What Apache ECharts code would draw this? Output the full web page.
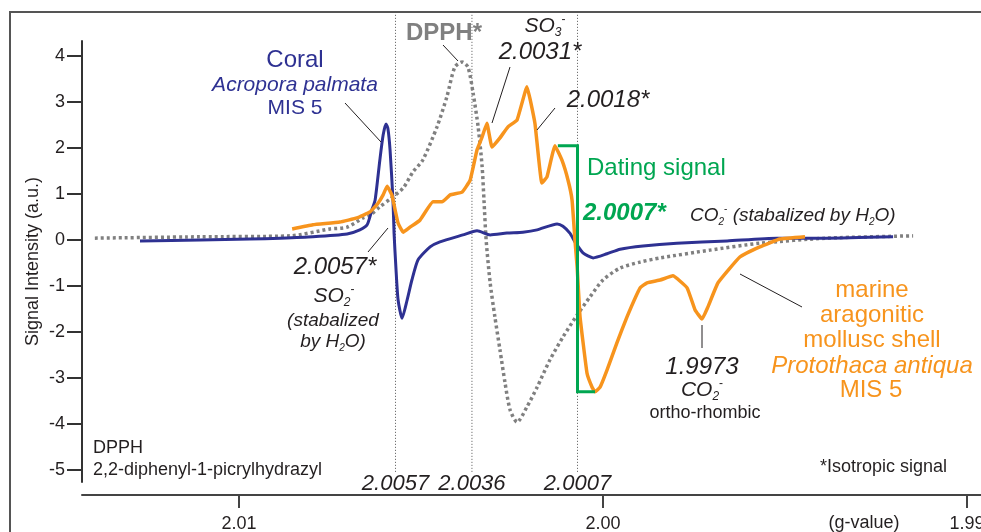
<!DOCTYPE html>
<html>
<head>
<meta charset="utf-8">
<script src="https://cdn.jsdelivr.net/npm/echarts@6/dist/echarts.min.js"></script>
<style>
  html, body { margin: 0; padding: 0; background: #fff; }
  #chart { width: 981px; height: 532px; }
</style>
</head>
<body>
<div id="chart"></div>
<script>
// ---- ESR spectra (x: g-value, y: signal intensity in a.u.) ----
const coralG = [2.01272, 2.01107, 2.00970, 2.00887, 2.00797, 2.00703, 2.00668, 2.00648, 2.00635, 2.00626,
  2.00613, 2.00604, 2.00596, 2.00591, 2.00585, 2.00577, 2.00574, 2.00569, 2.00563, 2.00552,
  2.00538, 2.00525, 2.00508, 2.00475, 2.00448, 2.00385, 2.00346, 2.00310, 2.00264, 2.00220,
  2.00181, 2.00126, 2.00110, 2.00091, 2.00077, 2.00055, 2.00027, 1.99989, 1.99953, 1.99890,
  1.99797, 1.99659, 1.99522, 1.99385, 1.99203];
const coralSignal = [-0.02, 0.00, 0.02, 0.04, 0.07, 0.13, 0.22, 0.33, 0.65, 0.87,
  1.74, 2.28, 2.52, 2.43, 1.96, 0.87, 0.15, -0.59, -1.30, -1.70,
  -1.30, -0.87, -0.43, -0.15, -0.04, 0.11, 0.20, 0.11, 0.15, 0.17,
  0.22, 0.35, 0.30, 0.15, -0.04, -0.28, -0.39, -0.30, -0.20, -0.13,
  -0.07, -0.02, 0.04, 0.04, 0.07];

const shellG = [2.00854, 2.00797, 2.00723, 2.00676, 2.00640, 2.00618, 2.00604, 2.00593, 2.00580, 2.00571,
  2.00563, 2.00549, 2.00530, 2.00503, 2.00467, 2.00442, 2.00420, 2.00387, 2.00365, 2.00346,
  2.00332, 2.00319, 2.00305, 2.00283, 2.00261, 2.00236, 2.00209, 2.00187, 2.00168, 2.00154,
  2.00132, 2.00113, 2.00096, 2.00085, 2.00077, 2.00071, 2.00063, 2.00044, 2.00030, 2.00022,
  2.00008, 1.99989, 1.99962, 1.99934, 1.99898, 1.99879, 1.99843, 1.99808, 1.99769, 1.99747,
  1.99728, 1.99712, 1.99684, 1.99624, 1.99569, 1.99514, 1.99445];
const shellSignal = [0.24, 0.33, 0.39, 0.48, 0.61, 0.80, 0.98, 1.17, 0.98, 0.65,
  0.37, 0.17, 0.28, 0.43, 0.83, 0.83, 0.98, 1.04, 1.30, 1.96,
  2.24, 2.54, 2.02, 2.22, 2.46, 2.61, 3.33, 2.54, 1.24, 1.37,
  2.05, 1.74, 1.30, 0.87, 0.00, -0.59, -1.67, -2.89, -3.20, -3.30,
  -3.20, -2.83, -2.24, -1.67, -1.04, -0.93, -0.87, -0.78, -1.04, -1.52,
  -1.72, -1.46, -0.93, -0.37, -0.15, 0.02, 0.07];

const dpphG = [2.01396, 2.01107, 2.00860, 2.00750, 2.00703, 2.00659, 2.00640, 2.00613, 2.00585, 2.00549,
  2.00522, 2.00495, 2.00456, 2.00429, 2.00407, 2.00387, 2.00371, 2.00357, 2.00343, 2.00332,
  2.00327, 2.00321, 2.00310, 2.00297, 2.00283, 2.00269, 2.00255, 2.00236, 2.00209, 2.00181,
  2.00146, 2.00110, 2.00071, 2.00036, 2.00000, 1.99953, 1.99898, 1.99843, 1.99706, 1.99569,
  1.99385, 1.99148];
const dpphSignal = [0.04, 0.07, 0.09, 0.24, 0.28, 0.48, 0.54, 0.72, 0.89, 1.13,
  1.48, 1.74, 2.46, 3.11, 3.76, 3.87, 3.76, 3.20, 2.46, 1.59,
  0.87, 0.00, -0.93, -1.67, -2.39, -3.11, -3.70, -3.96, -3.63, -3.20,
  -2.61, -2.11, -1.63, -1.24, -0.87, -0.61, -0.48, -0.39, -0.22, -0.07,
  0.04, 0.09];

// Dating-signal bracket: peak-to-trough amplitude of the 2.0007 line
const datingG = [2.00124, 2.0007, 2.0007, 2.00022];
const datingSignal = [2.05, 2.05, -3.30, -3.30];

// Isotropic g-value reference lines
const refLineG = [2.0057, 2.0036, 2.0007];
const refLineLabels = ['2.0057', '2.0036', '2.0007'];
const refTop = 4.96, refBottom = -5.04;

// Axis ticks
const xTicks = [2.01, 2.00, 1.99];
const yTicks = [-5, -4, -3, -2, -1, 0, 1, 2, 3, 4];

const FONT = '"Liberation Sans", Arial, Helvetica, sans-serif';
const INK = '#231f20';
const BLUE = '#2e3192';
const ORANGE = '#f7941d';
const GREEN = '#00a651';
const GREY = '#808080';

const zip = (xs, ys) => xs.map((x, i) => [x, ys[i]]);

const chart = echarts.init(document.getElementById('chart'), null, { renderer: 'canvas' });

const refSeries = refLineG.map((g, i) => ({
  type: 'line',
  name: 'ref ' + refLineLabels[i],
  clip: false,
  silent: true,
  z: 1,
  showSymbol: true,
  symbol: 'circle',
  symbolSize: 1,
  itemStyle: { color: 'rgba(0,0,0,0)' },
  lineStyle: { color: '#555', width: 1, type: [1, 2] },
  data: [
    [g, refTop],
    {
      value: [g, refBottom],
      label: {
        show: true, position: 'bottom', distance: 1,
        formatter: refLineLabels[i],
        fontFamily: FONT, fontSize: 22, fontStyle: 'italic', color: INK
      }
    }
  ]
}));

// text helpers for annotations
function txt(x, y, text, opts) {
  return {
    type: 'text', x, y, silent: true, z: 100,
    style: Object.assign({
      text, fill: INK, fontSize: 18, fontFamily: FONT,
      align: 'center', verticalAlign: 'middle'
    }, opts || {})
  };
}
function leader(x1, y1, x2, y2) {
  return { type: 'line', silent: true, z: 100, shape: { x1, y1, x2, y2 }, style: { stroke: INK, lineWidth: 1 } };
}
function chemRich(size, italic, color) {
  const fs = italic ? 'italic' : 'normal';
  return {
    n: { fontSize: size, fontStyle: fs, fontFamily: FONT, color, lineHeight: size + 4 },
    sub: { fontSize: Math.round(size * 0.55), fontStyle: fs, fontFamily: FONT, color, verticalAlign: 'bottom' },
    sup: { fontSize: Math.round(size * 0.55), fontFamily: FONT, color, verticalAlign: 'top' }
  };
}

const graphics = [
  // outer frame
  { type: 'rect', silent: true, z: 0, shape: { x: 10, y: 12, width: 1100, height: 700 },
    style: { fill: 'none', stroke: '#555', lineWidth: 2 } },

  // coral sample
  txt(295, 60, 'Coral', { fill: BLUE, fontSize: 24 }),
  txt(295, 85, 'Acropora palmata', { fill: BLUE, fontSize: 21, fontStyle: 'italic' }),
  txt(295, 108, 'MIS 5', { fill: BLUE, fontSize: 21 }),
  leader(345, 103, 381, 142),

  // DPPH standard
  txt(444, 33, 'DPPH*', { fill: '#808080', fontSize: 24, fontWeight: 'bold' }),
  leader(443, 45, 458, 61),

  // SO3- line
  txt(545, 26, '{n|SO}{sub|3}{sup|-}', { rich: chemRich(21, true, INK) }),
  txt(540, 52, '2.0031*', { fontSize: 24, fontStyle: 'italic' }),
  leader(510, 67, 492, 123),
  txt(608, 100, '2.0018*', { fontSize: 24, fontStyle: 'italic' }),
  leader(555, 108, 537, 130),

  // dating signal
  txt(587, 168, 'Dating signal', { fill: GREEN, fontSize: 24, align: 'left' }),
  txt(583, 213, '2.0007*', { fill: GREEN, fontSize: 24, fontStyle: 'italic', fontWeight: 'bold', align: 'left' }),
  txt(690, 216, '{n|CO}{sub|2}{sup|-}{n| (stabalized by H}{sub|2}{n|O)}', { rich: chemRich(19, true, INK), align: 'left' }),

  // SO2- line
  txt(335, 267, '2.0057*', { fontSize: 24, fontStyle: 'italic' }),
  leader(368, 252, 388, 228),
  txt(334, 296, '{n|SO}{sub|2}{sup|-}', { rich: chemRich(21, true, INK) }),
  txt(333, 321, '(stabalized', { fontSize: 19, fontStyle: 'italic' }),
  txt(333, 342, '{n|by H}{sub|2}{n|O)}', { rich: chemRich(19, true, INK) }),

  // CO2- ortho-rhombic
  leader(702, 325, 702, 348),
  txt(702, 367, '1.9973', { fontSize: 24, fontStyle: 'italic' }),
  txt(702, 390, '{n|CO}{sub|2}{sup|-}', { rich: chemRich(21, true, INK) }),
  txt(705, 413, 'ortho-rhombic', { fontSize: 18 }),

  // mollusc sample
  leader(740, 274, 802, 307),
  txt(872, 290, 'marine', { fill: ORANGE, fontSize: 24 }),
  txt(872, 315, 'aragonitic', { fill: ORANGE, fontSize: 24 }),
  txt(872, 340, 'mollusc shell', { fill: ORANGE, fontSize: 24 }),
  txt(872, 366, 'Protothaca antiqua', { fill: ORANGE, fontSize: 24, fontStyle: 'italic' }),
  txt(871, 390, 'MIS 5', { fill: ORANGE, fontSize: 24 }),

  // notes
  txt(93, 448, 'DPPH', { fontSize: 18, align: 'left' }),
  txt(93, 470, '2,2-diphenyl-1-picrylhydrazyl', { fontSize: 18, align: 'left' }),
  txt(820, 467, '*Isotropic signal', { fontSize: 18, align: 'left' }),
  txt(864, 523, '(g-value)', { fontSize: 18 })
];

chart.setOption({
  animation: false,
  textStyle: { fontFamily: FONT },
  grid: { left: 82, right: 0, top: 41, bottom: 50, containLabel: false, outerBoundsMode: 'none' },
  xAxis: {
    type: 'value', inverse: true,
    min: 1.989615, max: 2.014313,
    offset: 13,
    splitLine: { show: false },
    axisLine: { show: true, onZero: false, lineStyle: { color: '#444', width: 2 } },
    axisTick: { show: true, customValues: xTicks, length: 13, lineStyle: { color: '#444', width: 2 } },
    axisLabel: {
      customValues: xTicks, formatter: v => v.toFixed(2),
      fontSize: 18, color: INK, margin: 20, fontFamily: FONT, hideOverlap: false
    }
  },
  yAxis: {
    type: 'value',
    min: -5.261, max: 4.326,
    splitLine: { show: false },
    axisLine: { show: true, onZero: false, lineStyle: { color: '#333', width: 2 } },
    axisTick: { show: true, customValues: yTicks, length: 15, lineStyle: { color: '#333', width: 2 } },
    axisLabel: { customValues: yTicks, fontSize: 18, color: INK, margin: 17, fontFamily: FONT },
    name: 'Signal Intensity (a.u.)',
    nameLocation: 'middle', nameRotate: 90, nameGap: 40, nameMoveOverlap: false,
    nameTextStyle: { fontSize: 18, color: INK, fontFamily: FONT }
  },
  series: refSeries.concat([
    {
      type: 'line', name: 'DPPH', data: zip(dpphG, dpphSignal),
      showSymbol: false, smooth: 0.25, z: 2, silent: true,
      lineStyle: { color: GREY, width: 3.5, type: [3, 3], cap: 'butt' }
    },
    {
      type: 'line', name: 'Coral Acropora palmata MIS 5', data: zip(coralG, coralSignal),
      showSymbol: false, smooth: 0.2, z: 3, silent: true,
      lineStyle: { color: BLUE, width: 3, join: 'round' }
    },
    {
      type: 'line', name: 'Protothaca antiqua MIS 5', data: zip(shellG, shellSignal),
      showSymbol: false, smooth: 0.1, z: 4, silent: true,
      lineStyle: { color: ORANGE, width: 3.5, join: 'round' }
    },
    {
      type: 'line', name: 'Dating signal', data: zip(datingG, datingSignal),
      showSymbol: false, z: 5, silent: true,
      lineStyle: { color: GREEN, width: 3, join: 'miter' }
    }
  ]),
  graphic: graphics
});
</script>
</body>
</html>
